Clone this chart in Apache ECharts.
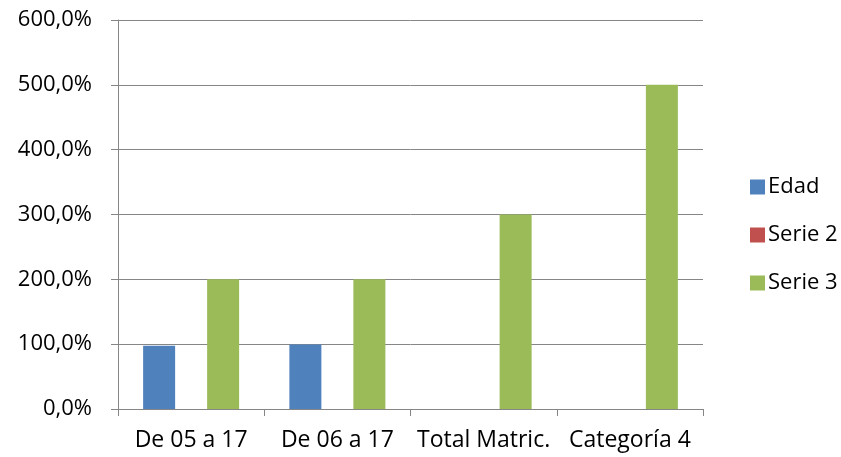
<!DOCTYPE html>
<html>
<head>
<meta charset="utf-8">
<script src="https://cdn.jsdelivr.net/npm/echarts@6/dist/echarts.min.js"></script>
<style>
  html, body { margin: 0; padding: 0; background: #fff; }
  #main { width: 841px; height: 457px; }
</style>
</head>
<body>
<div id="main"></div>
<script>
var categories = ['De 05 a 17', 'De 06 a 17', 'Total Matric.', 'Categoría 4'];
var edad = [97.5, 99.5, null, null];
var serie2 = [0, 0, 0, 0];
var serie3 = [200, 200, 300, 500];
var yTicks = [0, 100, 200, 300, 400, 500, 600];

var chart = echarts.init(document.getElementById('main'));

var option = {
  animation: false,
  textStyle: {
    fontFamily: 'Open Sans',
    color: '#000'
  },
  legend: {
    orient: 'vertical',
    left: 745,
    top: 171,
    itemWidth: 15,
    itemHeight: 15,
    itemGap: 26,
    icon: 'rect',
    textStyle: { fontSize: 22, lineHeight: 22, color: '#000', fontFamily: 'Open Sans', padding: [0, 0, 0, -2] },
    data: ['Edad', 'Serie 2', 'Serie 3']
  },
  grid: {
    left: 118,
    right: 138,
    top: 20,
    bottom: 48
  },
  xAxis: {
    type: 'category',
    data: categories,
    axisLine: { lineStyle: { color: '#868686', width: 1 } },
    axisTick: { show: true, alignWithLabel: false, length: 7, lineStyle: { color: '#868686' } },
    axisLabel: { fontSize: 23, color: '#000', margin: 20, interval: 0 }
  },
  yAxis: {
    type: 'value',
    min: 0,
    max: 600,
    interval: 100,
    axisLine: { show: true, lineStyle: { color: '#868686' } },
    axisTick: { show: true, length: 7, lineStyle: { color: '#868686' } },
    splitLine: { lineStyle: { color: '#868686', width: 1 } },
    axisLabel: {
      fontSize: 22,
      color: '#000',
      margin: 26,
      padding: [5, 0, 0, 0],
      formatter: function (v) {
        return v.toFixed(1).replace('.', ',') + '%';
      }
    }
  },
  series: [{
    name: 'Edad',
    type: 'bar',
    data: edad,
    barWidth: 32,
    barGap: '0%',
    itemStyle: { color: '#4f81bd' }
  }, {
    name: 'Serie 2',
    type: 'bar',
    data: serie2,
    barWidth: 32,
    barGap: '0%',
    itemStyle: { color: '#c0504d' }
  }, {
    name: 'Serie 3',
    type: 'bar',
    data: serie3,
    barWidth: 32,
    barGap: '0%',
    itemStyle: { color: '#9bbb59' }
  }]
};

chart.setOption(option);
</script>
</body>
</html>
